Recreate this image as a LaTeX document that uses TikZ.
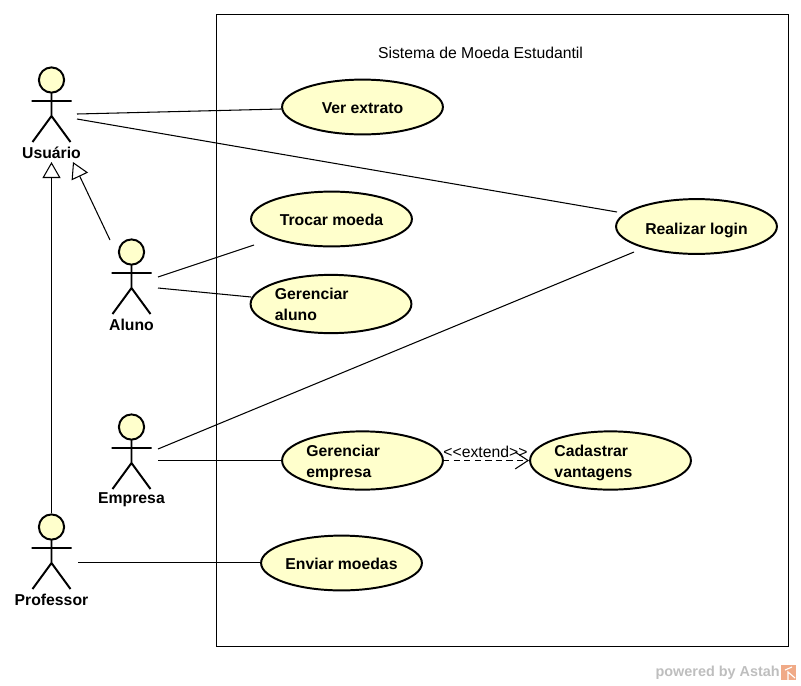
\documentclass[tikz,border=0pt]{standalone}
\usepackage{fontspec}
\setmainfont{Liberation Sans}
\usetikzlibrary{arrows.meta,shapes.geometric}
\definecolor{ucfill}{RGB}{255,255,204}
\definecolor{wmgray}{RGB}{190,190,190}
\definecolor{wmorange}{RGB}{240,170,135}

\begin{document}
\begin{tikzpicture}[x=.025cm,y=-.025cm]
\tikzset{
  sysbox/.style={draw=black,line width=.75pt},
  usecase/.style={ellipse,draw=black,fill=ucfill,line width=1.4pt,inner sep=0pt,minimum width=4.02cm,minimum height=1.37cm,text height=9.2pt,text depth=0pt,font=\fontsize{11.2}{14.9}\selectfont\bfseries},
  twoline/.style={ellipse,draw=black,fill=ucfill,line width=1.4pt,inner sep=0pt,minimum width=4.02cm,minimum height=1.42cm,font=\fontsize{11.2}{14.9}\selectfont\bfseries,text width=2.8cm,align=left,execute at begin node={\rule{0pt}{11.5pt}},execute at end node={\rule[-2.9pt]{0pt}{1pt}}},
  head/.style={circle,draw=black,fill=ucfill,line width=1.4pt,inner sep=0pt,minimum size=.63cm},
  actorline/.style={draw=black,line width=1.4pt},
  actorlab/.style={font=\fontsize{11.2}{13}\selectfont\bfseries,inner sep=0pt},
  assoc/.style={draw=black,line width=.75pt},
  gener/.style={draw=black,line width=.75pt,-{Triangle[open,fill=white,length=.4cm,width=.45cm]}},
  extendline/.style={draw=black,line width=.75pt,dash pattern=on 4.5pt off 3pt,-{Straight Barb[length=.32cm,width=.42cm]}},
  lab/.style={font=\fontsize{11.2}{13}\selectfont,inner sep=0pt}
}
\useasboundingbox (0,0) rectangle (801,685);
\draw[sysbox] (216.5,14.5) rectangle (788.5,646.5);
\node[lab] (systitle) at (480.5,53) {Sistema de Moeda Estudantil};

\node[usecase] (extrato) at (362.5,107) {Ver extrato};
\node[usecase] (trocar) at (331.5,219) {Trocar moeda};
\node[twoline] (geraluno) at (331,304) {Gerenciar\\aluno};
\node[usecase,text height=11pt] (login) at (696.5,226.5) {Realizar login};
\node[twoline] (geremp) at (362.5,460.5) {Gerenciar\\empresa};
\node[twoline] (cadastrar) at (610.5,460.5) {Cadastrar\\vantagens};
\node[usecase] (enviar) at (341.5,563) {Enviar moedas};

\foreach \name/\x/\y/\lab in {usuario/51.5/80/Usuário,aluno/131.5/252/Aluno,empresa/131.5/427/Empresa,professor/51.5/527/Professor}
{
\begin{scope}[shift={(\x,\y)}]
  \draw[actorline] (0,13) -- (0,36) (-20,21) -- (20,21) (-19,62) -- (0,36) -- (19,62);
  \node[head] (\name) at (0,0) {};
  \node[actorlab] (\name-lab) at (0,73) {\lab};
\end{scope}
}

\coordinate (usuario-a) at (77,114);
\coordinate (usuario-b) at (77,119);
\coordinate (usuario-tipa) at (73,162);
\coordinate (usuario-tipb) at (51.5,162);
\coordinate (aluno-top) at (110,240);
\coordinate (aluno-a) at (158,277);
\coordinate (aluno-b) at (158,288);
\coordinate (empresa-a) at (158,449);
\coordinate (empresa-b) at (158,460.5);
\coordinate (professor-a) at (78,562.5);
\coordinate (trocar-a) at (254,245);
\coordinate (geraluno-a) at (251,297);
\coordinate (login-a) at (617,212);
\coordinate (login-b) at (634,252);
\coordinate (enviar-a) at (262,562.5);
\coordinate (geremp-a) at (283,460.5);
\coordinate (geremp-b) at (443,460.5);
\coordinate (cadastrar-a) at (529,460.5);

\draw[assoc] (usuario-a) -- (extrato);
\draw[assoc] (usuario-b) -- (login-a);
\draw[assoc] (aluno-a) -- (trocar-a);
\draw[assoc] (aluno-b) -- (geraluno-a);
\draw[assoc] (empresa-a) -- (login-b);
\draw[assoc] (empresa-b) -- (geremp-a);
\draw[assoc] (professor-a) -- (enviar-a);
\draw[gener] (aluno-top) -- (usuario-tipa);
\draw[gener] (professor) -- (usuario-tipb);
\draw[extendline] (geremp-b) -- (cadastrar-a);
\node[lab] (extendlab) at (485.5,452) {<{}<extend>{}>};

\node[font=\fontsize{10.25}{12}\selectfont\bfseries,text=wmgray,inner sep=0pt,anchor=east] (powered) at (780,673) {powered by Astah};
\fill[wmorange] (781,665) rectangle (796,680);
\draw[white,line width=.8pt] (785,670) -- (792,667) (788,680) -- (788,672) -- (795,678);
\end{tikzpicture}
\end{document}
